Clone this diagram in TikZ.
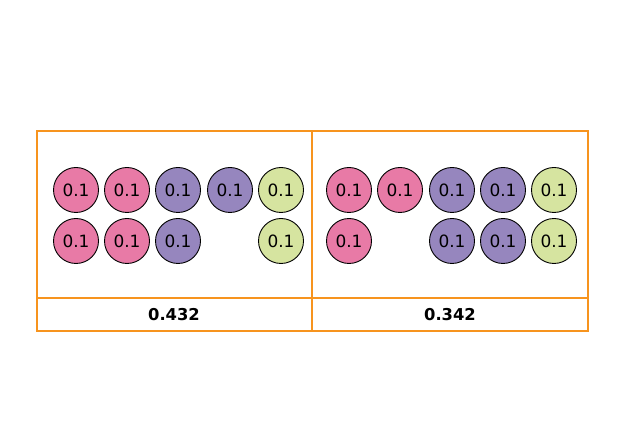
\documentclass[tikz,border=0pt]{standalone}
\usepackage{fontspec}
\setmainfont{DejaVu Sans}
\definecolor{boxorange}{RGB}{247,148,30}
\definecolor{ballpink}{RGB}{232,122,166}
\definecolor{ballpurple}{RGB}{150,134,190}
\definecolor{ballgreen}{RGB}{214,228,160}
\tikzset{
  ball/.style={circle, draw=black, line width=0.9pt, minimum size=45bp, inner sep=0pt, font=\fontsize{17}{19}\selectfont},
  ball-pink/.style={ball, fill=ballpink},
  ball-purple/.style={ball, fill=ballpurple},
  ball-green/.style={ball, fill=ballgreen},
  frame/.style={draw=boxorange, line width=1.3pt},
  score/.style={font=\bfseries\fontsize{16.4}{19}\selectfont}
}
\begin{document}
\begin{tikzpicture}[x=1bp, y=-1bp]
  \useasboundingbox (0,0) rectangle (630,445);
  % Frame
  \coordinate (tl) at (37,131);
  \coordinate (br) at (588,331);
  \coordinate (mt) at (312,131);
  \coordinate (mb) at (312,331);
  \coordinate (hl) at (37,298);
  \coordinate (hr) at (588,298);
  \draw[frame] (tl) rectangle (br);
  \draw[frame] (mt) -- (mb);
  \draw[frame] (hl) -- (hr);
  % Left set, row 1
  \node[ball-pink]   (l11) at (76,190)  {0.1};
  \node[ball-pink]   (l12) at (127,190) {0.1};
  \node[ball-purple] (l13) at (178,190) {0.1};
  \node[ball-purple] (l14) at (230,190) {0.1};
  \node[ball-green]  (l15) at (281,190) {0.1};
  % Left set, row 2
  \node[ball-pink]   (l21) at (76,241)  {0.1};
  \node[ball-pink]   (l22) at (127,241) {0.1};
  \node[ball-purple] (l23) at (178,241) {0.1};
  \node[ball-green]  (l25) at (281,241) {0.1};
  % Right set, row 1
  \node[ball-pink]   (r11) at (349,190) {0.1};
  \node[ball-pink]   (r12) at (400,190) {0.1};
  \node[ball-purple] (r13) at (452,190) {0.1};
  \node[ball-purple] (r14) at (503,190) {0.1};
  \node[ball-green]  (r15) at (554,190) {0.1};
  % Right set, row 2
  \node[ball-pink]   (r21) at (349,241) {0.1};
  \node[ball-purple] (r23) at (452,241) {0.1};
  \node[ball-purple] (r24) at (503,241) {0.1};
  \node[ball-green]  (r25) at (554,241) {0.1};
  % Scores
  \node[score] (lscore) at (174,315) {0.432};
  \node[score] (rscore) at (450,315) {0.342};
\end{tikzpicture}
\end{document}
